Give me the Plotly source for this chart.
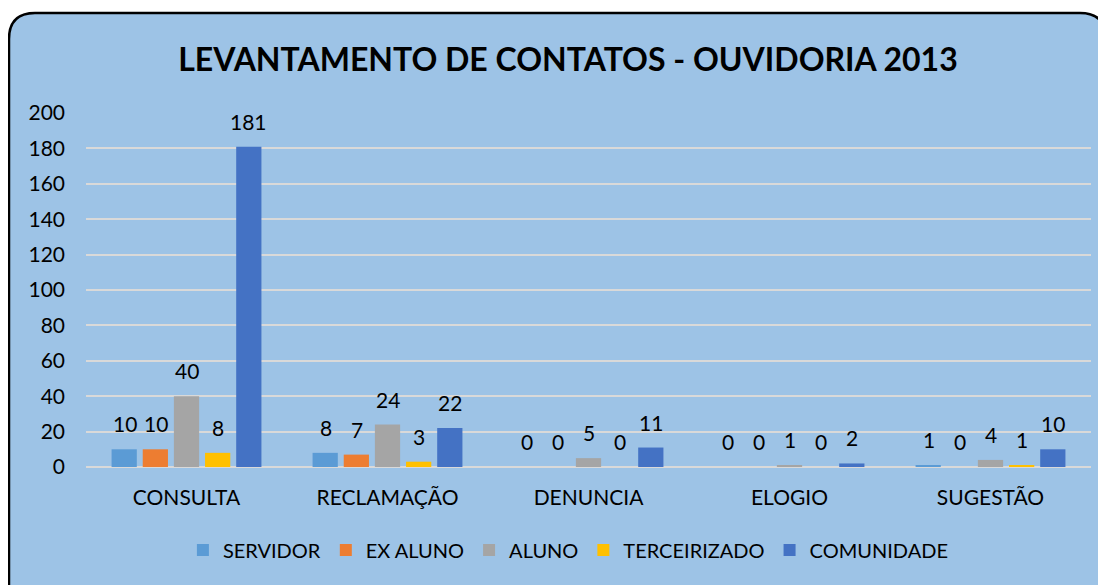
import plotly.graph_objects as go

categorias = ["CONSULTA", "RECLAMAÇÃO", "DENUNCIA", "ELOGIO", "SUGESTÃO"]
servidor = [10, 8, 0, 0, 1]
ex_aluno = [10, 7, 0, 0, 0]
aluno = [40, 24, 5, 1, 4]
terceirizado = [8, 3, 0, 0, 1]
comunidade = [181, 22, 11, 2, 10]
y_ticks = [0, 20, 40, 60, 80, 100, 120, 140, 160, 180, 200]

series = [
    ("SERVIDOR", servidor, "#5B9BD5"),
    ("EX ALUNO", ex_aluno, "#ED7D31"),
    ("ALUNO", aluno, "#A5A5A5"),
    ("TERCEIRIZADO", terceirizado, "#FFC000"),
    ("COMUNIDADE", comunidade, "#4472C4"),
]

# page has an 8px body margin, so the figure is drawn 8px smaller
W, H = 1098, 577
L, R, T, B = 78, 15, 105, 118
FONT = "Lato, Calibri, sans-serif"


def px_to_paper(px, py):
    return (px - L) / (W - L - R), (H - B - py) / (H - T - B)


fig = go.Figure()
for name, vals, color in series:
    fig.add_trace(go.Bar(name=name, x=categorias, y=vals, marker_color=color, marker_line_width=0))

# data labels above each bar
bar_pitch = 31
for i, (name, vals, color) in enumerate(series):
    for cat, v in zip(categorias, vals):
        fig.add_annotation(
            x=cat, y=v, text=str(v), showarrow=False, xref="x", yref="y",
            xshift=(i - 2) * bar_pitch, yanchor="bottom", yshift=11,
            font=dict(size=21, color="black", family=FONT),
        )

# rounded chart border
x0, y0 = px_to_paper(1, 5)
x1, y1 = px_to_paper(1098, 600)
rx = 26 / (W - L - R)
ry = 26 / (H - T - B)
path = (
    f"M {x0 + rx} {y0} L {x1 - rx} {y0} Q {x1} {y0} {x1} {y0 - ry} "
    f"L {x1} {y1} L {x0} {y1} L {x0} {y0 - ry} Q {x0} {y0} {x0 + rx} {y0} Z"
)
fig.add_shape(type="path", path=path, xref="paper", yref="paper", layer="below",
              fillcolor="#9DC3E6", line=dict(color="black", width=2.5))

fig.update_layout(
    width=W, height=H,
    margin=dict(l=L, r=R, t=T, b=B),
    paper_bgcolor="white",
    plot_bgcolor="rgba(0,0,0,0)",
    barmode="group", bargap=0.225, bargroupgap=0.19,
    title=dict(text="<b>LEVANTAMENTO DE CONTATOS - OUVIDORIA 2013</b>", x=0.51, xanchor="center",
               y=1 - 52 / H, yanchor="middle", font=dict(size=32, color="black", family=FONT)),
    font=dict(family=FONT, size=21, color="black"),
    showlegend=True,
    legend=dict(orientation="h", x=0.48, xanchor="center", y=(459 - 542) / 354, yanchor="middle",
                font=dict(size=20), bgcolor="rgba(0,0,0,0)", itemwidth=30, tracegroupgap=0),
    xaxis=dict(showgrid=False, showline=False, ticks="", ticklabelstandoff=16,
               tickfont=dict(size=21)),
    yaxis=dict(range=[0, 200], tickvals=y_ticks, showgrid=True, gridcolor="#D9D9D9", gridwidth=2,
               zeroline=True, zerolinecolor="#D9D9D9", zerolinewidth=2, ticks="",
               ticklabelstandoff=20, tickfont=dict(size=21)),
)

fig.write_html("out.html")
